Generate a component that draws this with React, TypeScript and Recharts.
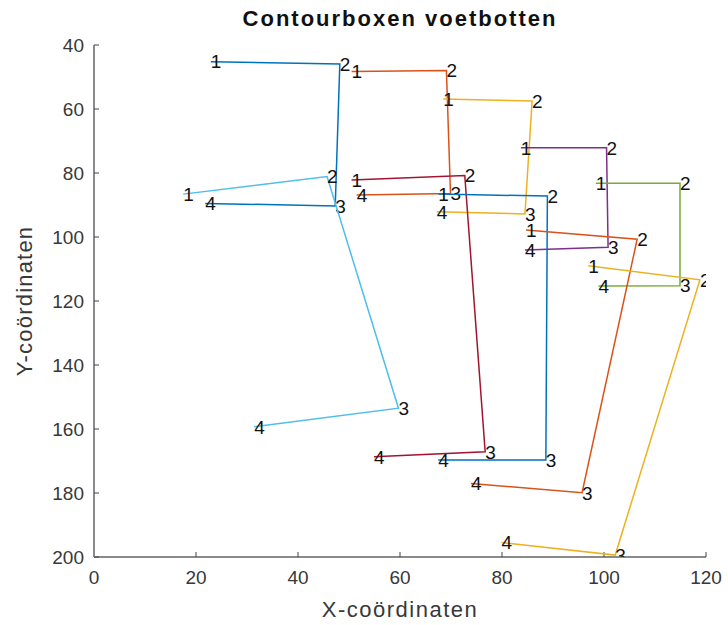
import { ScatterChart, Scatter, XAxis, YAxis, Label } from 'recharts';

// hoekpunten per contourbox (volgorde 1-2-3-4)
const BOX_X = [
  [22.9, 48.2, 47.3, 21.8],
  [50.5, 69.1, 69.9, 51.5],
  [68.5, 85.9, 84.5, 67.2],
  [83.7, 100.5, 100.8, 84.5],
  [98.4, 114.9, 114.9, 98.9],
  [17.5, 45.7, 59.7, 31.4],
  [50.5, 72.7, 76.7, 54.9],
  [67.5, 88.9, 88.6, 67.5],
  [84.7, 106.5, 95.7, 73.9],
  [96.9, 118.8, 102.2, 79.9],
];

const BOX_Y = [
  [45.2, 45.9, 90.3, 89.5],
  [48.3, 48.0, 86.4, 86.9],
  [56.9, 57.5, 92.8, 92.1],
  [72.1, 72.1, 103.2, 104.1],
  [83.2, 83.2, 115.2, 115.3],
  [86.6, 81.1, 153.5, 159.3],
  [82.2, 80.8, 167.1, 168.7],
  [86.6, 87.2, 169.7, 169.7],
  [97.8, 100.7, 179.9, 177.0],
  [109.0, 113.4, 199.4, 195.5],
];

const CORNER_LABELS = ['1', '2', '3', '4'];

const X_TICKS = [0, 20, 40, 60, 80, 100, 120];
const Y_TICKS = [40, 60, 80, 100, 120, 140, 160, 180, 200];

// standaard MATLAB kleurvolgorde
const COLORS = ['#0072BD', '#D95319', '#EDB120', '#7E2F8E', '#77AC30', '#4DBEEE', '#A2142F'];

const FONT = '"Liberation Sans", Arial, Helvetica, sans-serif';
const AXIS_COLOR = '#8a8a8a';
const TEXT_COLOR = '#383838';

const boxes = BOX_X.map((xs, i) =>
  xs.map((x, j) => ({ x, y: BOX_Y[i][j], label: CORNER_LABELS[j] })),
);

function CornerLabel(props: any) {
  const { cx, cy, payload } = props;
  if (cx == null || cy == null) return <g />;
  return (
    <text x={cx} y={cy} dy="0.36em" fontSize={19} fill="#111" fontFamily={FONT}>
      {payload.label}
    </text>
  );
}

function XLabel(props: any) {
  const vb = props.viewBox || { x: 94, width: 612 };
  return (
    <text
      x={vb.x + vb.width / 2}
      y={609}
      textAnchor="middle"
      dominantBaseline="central"
      fontSize={22}
      letterSpacing={1.5}
      fill={TEXT_COLOR}
      fontFamily={FONT}
    >
      X-coördinaten
    </text>
  );
}

function YLabel(props: any) {
  const vb = props.viewBox || { y: 45, height: 512 };
  const cx = 24;
  const cy = vb.y + vb.height / 2;
  return (
    <text
      x={cx}
      y={cy}
      transform={`rotate(-90, ${cx}, ${cy})`}
      textAnchor="middle"
      dominantBaseline="central"
      fontSize={22}
      letterSpacing={1.2}
      fill={TEXT_COLOR}
      fontFamily={FONT}
    >
      Y-coördinaten
    </text>
  );
}

export default function App() {
  return (
    <div style={{ position: 'absolute', left: 0, top: 0, width: 728, height: 625, background: '#fff', fontFamily: FONT }}>
      <div
        style={{
          position: 'absolute',
          left: 94,
          top: 7,
          width: 612,
          textAlign: 'center',
          fontWeight: 'bold',
          fontSize: 22,
          letterSpacing: 2,
          lineHeight: '24px',
          color: '#111',
        }}
      >
        Contourboxen voetbotten
      </div>
      <ScatterChart width={728} height={625} margin={{ top: 45, right: 22, bottom: 0, left: 0 }}>
        <XAxis
          type="number"
          dataKey="x"
          domain={[0, 120]}
          ticks={X_TICKS}
          allowDataOverflow
          height={68}
          tickSize={-5}
          tickMargin={19}
          axisLine={{ stroke: AXIS_COLOR, strokeWidth: 2 }}
          tickLine={{ stroke: '#444', strokeWidth: 1 }}
          tick={{ fill: TEXT_COLOR, fontSize: 19, fontFamily: FONT }}
          interval={0}
        >
          <Label content={XLabel} />
        </XAxis>
        <YAxis
          type="number"
          dataKey="y"
          domain={[40, 200]}
          ticks={Y_TICKS}
          reversed
          allowDataOverflow
          width={94}
          tickSize={-5}
          tickMargin={15}
          axisLine={{ stroke: AXIS_COLOR, strokeWidth: 2 }}
          tickLine={{ stroke: '#444', strokeWidth: 1 }}
          tick={{ fill: TEXT_COLOR, fontSize: 19, fontFamily: FONT }}
          interval={0}
        >
          <Label content={YLabel} />
        </YAxis>
        {boxes.map((pts, i) => (
          <Scatter
            key={i}
            data={pts}
            fill={COLORS[i % COLORS.length]}
            line={{ stroke: COLORS[i % COLORS.length], strokeWidth: 1.5 }}
            lineType="joint"
            shape={CornerLabel}
            isAnimationActive={false}
          />
        ))}
      </ScatterChart>
    </div>
  );
}
